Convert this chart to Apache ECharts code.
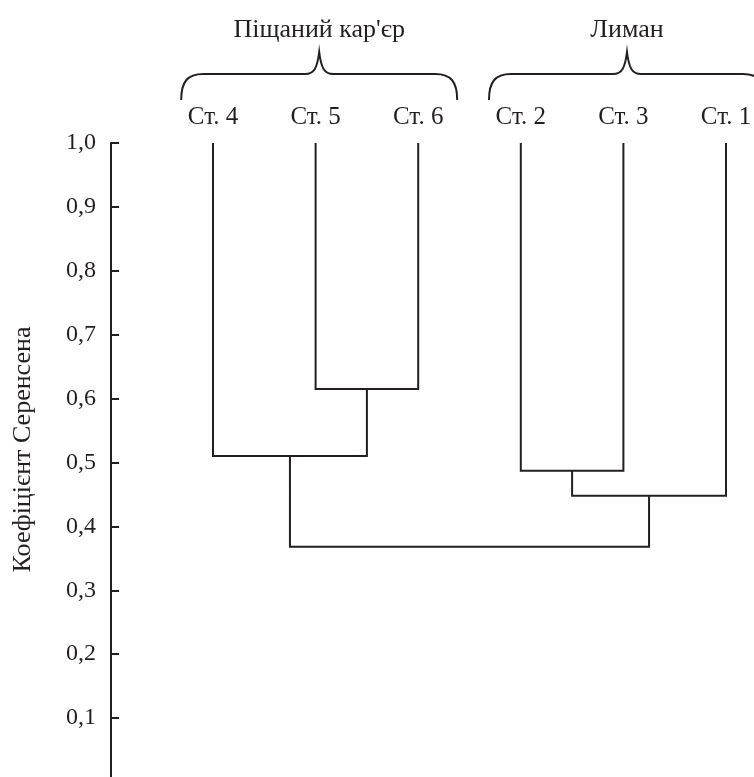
<!DOCTYPE html>
<html>
<head>
<meta charset="utf-8">
<script src="https://cdn.jsdelivr.net/npm/echarts@6/dist/echarts.min.js"></script>
<style>
  html, body { margin: 0; padding: 0; background: #fff; }
  #main { width: 754px; height: 777px; }
</style>
</head>
<body>
<div id="main"></div>
<script>
// листки в порядку на дендрограмі
var leaves = ['Ст. 4', 'Ст. 5', 'Ст. 6', 'Ст. 2', 'Ст. 3', 'Ст. 1'];
var leafTop = 1.0;
// злиття кластерів: id 0-5 листки, 6+ нові кластери (як linkage)
var mergeA = [1, 3, 0, 7, 8];
var mergeB = [2, 4, 6, 5, 9];
var mergeH = [0.615, 0.487, 0.51, 0.448, 0.368];
// групи станцій
var groupNames = ['Піщаний кар\'єр', 'Лиман'];
var groupFrom = [0, 3];
var groupTo = [2, 5];
var yTicks = [0, 0.1, 0.2, 0.3, 0.4, 0.5, 0.6, 0.7, 0.8, 0.9, 1.0];

var ink = '#231f20';
var font = '"Liberation Serif", "DejaVu Serif", serif';

// позиції та висоти кластерів
var posX = leaves.map(function (d, i) { return i; });
var posH = leaves.map(function () { return leafTop; });
var links = [];
for (var i = 0; i < mergeA.length; i++) {
  var a = mergeA[i], b = mergeB[i];
  links.push([posX[a], posH[a], posX[b], posH[b], mergeH[i]]);
  posX.push((posX[a] + posX[b]) / 2);
  posH.push(mergeH[i]);
}
var groups = groupNames.map(function (n, g) { return [groupFrom[g], groupTo[g], g]; });

var myChart = echarts.init(document.getElementById('main'));
var option = {
  animation: false,
  backgroundColor: '#fff',
  grid: { left: 213, right: 28, top: 143, bottom: -5, outerBoundsMode: 'none' },
  xAxis: {
    type: 'value',
    position: 'top',
    min: 0,
    max: leaves.length - 1,
    interval: 1,
    axisLine: { show: false },
    axisTick: { show: false },
    splitLine: { show: false },
    axisLabel: {
      margin: 13,
      color: ink,
      fontFamily: font,
      fontSize: 25,
      formatter: function (v) { return leaves[v]; }
    }
  },
  yAxis: {
    type: 'value',
    min: yTicks[0],
    max: yTicks[yTicks.length - 1],
    interval: 0.1,
    offset: 102,
    name: 'Коефіцієнт Серенсена',
    nameLocation: 'middle',
    nameGap: 75,
    nameRotate: 90,
    nameTextStyle: { color: ink, fontFamily: font, fontSize: 26, padding: [0, 0, 0, 26] },
    axisLine: { show: true, onZero: false, lineStyle: { color: ink, width: 2 } },
    axisTick: { show: true, inside: true, length: 8, lineStyle: { color: ink, width: 2 } },
    splitLine: { show: false },
    axisLabel: {
      margin: 15,
      color: ink,
      fontFamily: font,
      fontSize: 24,
      formatter: function (v) {
        if (v === 0) return '';
        return v.toFixed(1).replace('.', ',');
      }
    }
  },
  series: [{
    type: 'custom',
    clip: false,
    encode: { x: [0, 2], y: [1, 3, 4] },
    data: links,
    renderItem: function (params, api) {
      var p1 = api.coord([api.value(0), api.value(1)]);
      var p2 = api.coord([api.value(0), api.value(4)]);
      var p3 = api.coord([api.value(2), api.value(4)]);
      var p4 = api.coord([api.value(2), api.value(3)]);
      return {
        type: 'polyline',
        shape: { points: [p1, p2, p3, p4] },
        style: { fill: null, stroke: ink, lineWidth: 2 }
      };
    }
  }, {
    // фігурні дужки з назвами груп
    type: 'custom',
    clip: false,
    silent: true,
    encode: { x: [0, 1] },
    data: groups,
    renderItem: function (params, api) {
      var x0 = api.coord([api.value(0) - 0.31, 1])[0];
      var x1 = api.coord([api.value(1) + 0.38, 1])[0];
      var xm = (x0 + x1) / 2;
      var yTop = 52, yMid = 74, yEnd = 100;
      var d = 'M' + x0 + ' ' + yEnd +
        ' C' + x0 + ' ' + (yMid + 8) + ' ' + (x0 + 6) + ' ' + yMid + ' ' + (x0 + 22) + ' ' + yMid +
        ' L' + (xm - 14) + ' ' + yMid +
        ' C' + (xm - 5) + ' ' + yMid + ' ' + (xm - 2) + ' ' + (yMid - 6) + ' ' + xm + ' ' + yTop +
        ' C' + (xm + 2) + ' ' + (yMid - 6) + ' ' + (xm + 5) + ' ' + yMid + ' ' + (xm + 14) + ' ' + yMid +
        ' L' + (x1 - 22) + ' ' + yMid +
        ' C' + (x1 - 6) + ' ' + yMid + ' ' + x1 + ' ' + (yMid + 8) + ' ' + x1 + ' ' + yEnd;
      return {
        type: 'group',
        children: [{
          type: 'path',
          shape: { pathData: d },
          style: { fill: null, stroke: ink, lineWidth: 2 }
        }, {
          type: 'text',
          x: xm,
          y: 30,
          style: {
            text: groupNames[api.value(2)],
            fill: ink,
            font: '26px ' + font,
            textAlign: 'center',
            textVerticalAlign: 'middle'
          }
        }]
      };
    }
  }]
};
myChart.setOption(option);
</script>
</body>
</html>
